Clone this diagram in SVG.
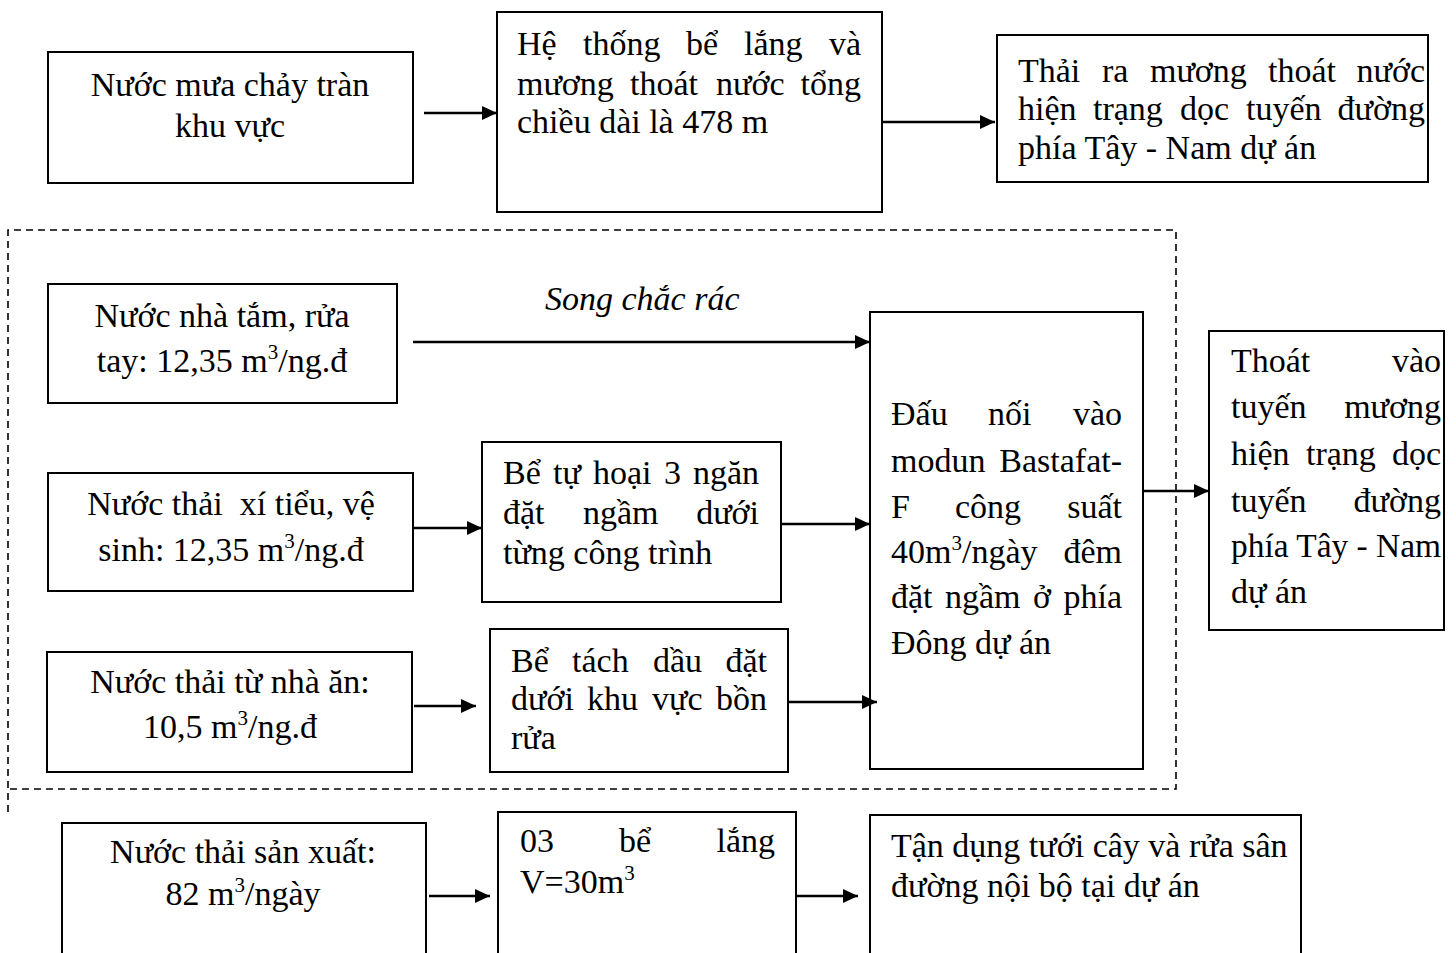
<svg xmlns="http://www.w3.org/2000/svg" width="1456" height="953" viewBox="0 0 1456 953">
  <style>
    .box { fill: #ffffff; stroke: #000000; stroke-width: 2; }
    .t { font-family: "Liberation Serif", "Times New Roman", serif; font-size: 34px; fill: #000000; }
    .c { text-anchor: middle; }
    .r { text-anchor: end; }
    .i { font-style: italic; }
    .pre { white-space: pre; }
    .sup { font-size: 21px; }
    .link { fill: none; stroke: #000000; stroke-width: 2.4; marker-end: url(#arrow); }
    .frame { fill: none; stroke: #000000; stroke-width: 1.6; stroke-dasharray: 7 5; }
  </style>
  <defs>
    <marker id="arrow" markerUnits="userSpaceOnUse" markerWidth="16" markerHeight="16" refX="15" refY="8" orient="auto">
      <path d="M0,1 L15,8 L0,15 z" fill="#000000"/>
    </marker>
  </defs>
  <rect width="1456" height="953" fill="#ffffff"/>

  <!-- dashed frame around the domestic wastewater line -->
  <g id="frame">
    <path class="frame" d="M8,812 L8,230 L1176,230 L1176,789 L8,789"/>
  </g>

  <!-- stormwater line -->
  <g id="n-rain">
    <rect class="box" x="48" y="52" width="365" height="131"/>
    <text class="t c" x="230" y="96">Nước mưa chảy tràn</text>
    <text class="t c" x="230" y="137">khu vực</text>
  </g>
  <g id="n-settle-ditch">
    <rect class="box" x="497" y="12" width="385" height="200"/>
    <text class="t" y="55"><tspan x="517">Hệ</tspan><tspan x="583">thống</tspan><tspan x="686">bể</tspan><tspan x="744">lắng</tspan></text>
    <text class="t r" x="861" y="55">và</text>
    <text class="t" y="95"><tspan x="517">mương</tspan><tspan x="630">thoát</tspan><tspan x="716">nước</tspan></text>
    <text class="t r" x="861" y="95">tổng</text>
    <text class="t" x="517" y="133">chiều dài là 478 m</text>
  </g>
  <g id="n-discharge-ditch">
    <rect class="box" x="997" y="35" width="431" height="147"/>
    <text class="t" y="82"><tspan x="1018">Thải</tspan><tspan x="1102">ra</tspan><tspan x="1150">mương</tspan><tspan x="1268">thoát</tspan></text>
    <text class="t r" x="1425" y="82">nước</text>
    <text class="t" y="120"><tspan x="1018">hiện</tspan><tspan x="1093">trạng</tspan><tspan x="1180">dọc</tspan><tspan x="1246">tuyến</tspan></text>
    <text class="t r" x="1425" y="120">đường</text>
    <text class="t" x="1018" y="159">phía Tây - Nam dự án</text>
  </g>

  <!-- domestic wastewater line -->
  <g id="n-bath">
    <rect class="box" x="48" y="284" width="349" height="119"/>
    <text class="t c" x="222" y="327">Nước nhà tắm, rửa</text>
    <text class="t c" x="222" y="372">tay: 12,35 m<tspan class="sup" dy="-13">3</tspan><tspan dy="13">/ng.đ</tspan></text>
  </g>
  <text id="lbl-screen" class="t i" x="545" y="310">Song chắc rác</text>

  <g id="n-toilet">
    <rect class="box" x="48" y="473" width="365" height="118"/>
    <text class="t c pre" x="231" y="515">Nước thải  xí tiểu, vệ</text>
    <text class="t c" x="231" y="561">sinh: 12,35 m<tspan class="sup" dy="-13">3</tspan><tspan dy="13">/ng.đ</tspan></text>
  </g>
  <g id="n-septic">
    <rect class="box" x="482" y="442" width="299" height="160"/>
    <text class="t" y="484"><tspan x="503">Bể</tspan><tspan x="553">tự</tspan><tspan x="593">hoại</tspan><tspan x="664">3</tspan></text>
    <text class="t r" x="759" y="484">ngăn</text>
    <text class="t" y="524"><tspan x="503">đặt</tspan><tspan x="583">ngầm</tspan></text>
    <text class="t r" x="759" y="524">dưới</text>
    <text class="t" x="503" y="564">từng công trình</text>
  </g>

  <g id="n-kitchen">
    <rect class="box" x="47" y="652" width="365" height="120"/>
    <text class="t c" x="230" y="693">Nước thải từ nhà ăn:</text>
    <text class="t c" x="230" y="738">10,5 m<tspan class="sup" dy="-13">3</tspan><tspan dy="13">/ng.đ</tspan></text>
  </g>
  <g id="n-grease">
    <rect class="box" x="490" y="629" width="298" height="143"/>
    <text class="t" y="672"><tspan x="511">Bể</tspan><tspan x="572">tách</tspan><tspan x="653">dầu</tspan></text>
    <text class="t r" x="767" y="672">đặt</text>
    <text class="t" y="710"><tspan x="511">dưới</tspan><tspan x="587">khu</tspan><tspan x="652">vực</tspan></text>
    <text class="t r" x="767" y="710">bồn</text>
    <text class="t" x="511" y="749">rửa</text>
  </g>

  <g id="n-bastafat">
    <rect class="box" x="870" y="312" width="273" height="457"/>
    <text class="t" y="425"><tspan x="891">Đấu</tspan><tspan x="988">nối</tspan></text>
    <text class="t r" x="1122" y="425">vào</text>
    <text class="t" x="891" y="472">modun</text>
    <text class="t r" x="1122" y="472">Bastafat-</text>
    <text class="t" y="518"><tspan x="891">F</tspan><tspan x="955">công</tspan></text>
    <text class="t r" x="1122" y="518">suất</text>
    <text class="t" x="891" y="563">40m<tspan class="sup" dy="-13">3</tspan><tspan dy="13">/ngày</tspan></text>
    <text class="t r" x="1122" y="563">đêm</text>
    <text class="t" y="608"><tspan x="891">đặt</tspan><tspan x="945">ngầm</tspan><tspan x="1033">ở</tspan></text>
    <text class="t r" x="1122" y="608">phía</text>
    <text class="t" x="891" y="654">Đông dự án</text>
  </g>

  <g id="n-outfall">
    <rect class="box" x="1209" y="331" width="235" height="299"/>
    <text class="t" x="1231" y="372">Thoát</text>
    <text class="t r" x="1441" y="372">vào</text>
    <text class="t" x="1231" y="418">tuyến</text>
    <text class="t r" x="1441" y="418">mương</text>
    <text class="t" y="465"><tspan x="1231">hiện</tspan><tspan x="1306">trạng</tspan></text>
    <text class="t r" x="1441" y="465">dọc</text>
    <text class="t" x="1231" y="512">tuyến</text>
    <text class="t r" x="1441" y="512">đường</text>
    <text class="t" x="1231" y="557" textLength="210" lengthAdjust="spacingAndGlyphs">phía Tây - Nam</text>
    <text class="t" x="1231" y="603">dự án</text>
  </g>

  <!-- production wastewater line -->
  <g id="n-production">
    <rect class="box" x="62" y="823" width="364" height="140"/>
    <text class="t c" x="243" y="863">Nước thải sản xuất:</text>
    <text class="t c" x="243" y="905">82 m<tspan class="sup" dy="-13">3</tspan><tspan dy="13">/ngày</tspan></text>
  </g>
  <g id="n-settling">
    <rect class="box" x="498" y="812" width="298" height="151"/>
    <text class="t" y="852"><tspan x="520">03</tspan><tspan x="619">bể</tspan></text>
    <text class="t r" x="775" y="852">lắng</text>
    <text class="t" x="520" y="893">V=30m<tspan class="sup" dy="-13">3</tspan></text>
  </g>
  <g id="n-reuse">
    <rect class="box" x="870" y="815" width="431" height="148"/>
    <text class="t" x="891" y="857">Tận dụng tưới cây và rửa sân</text>
    <text class="t" x="891" y="897">đường nội bộ tại dự án</text>
  </g>

  <g id="connectors">
    <path class="link" d="M424,113 L497,113"/>
    <path class="link" d="M882,122 L995,122"/>
    <path class="link" d="M413,342 L870,342"/>
    <path class="link" d="M414,528 L482,528"/>
    <path class="link" d="M781,524 L870,524"/>
    <path class="link" d="M414,706 L476,706"/>
    <path class="link" d="M788,702 L877,702"/>
    <path class="link" d="M1143,491 L1209,491"/>
    <path class="link" d="M429,896 L490,896"/>
    <path class="link" d="M796,896 L858,896"/>
  </g>
</svg>
